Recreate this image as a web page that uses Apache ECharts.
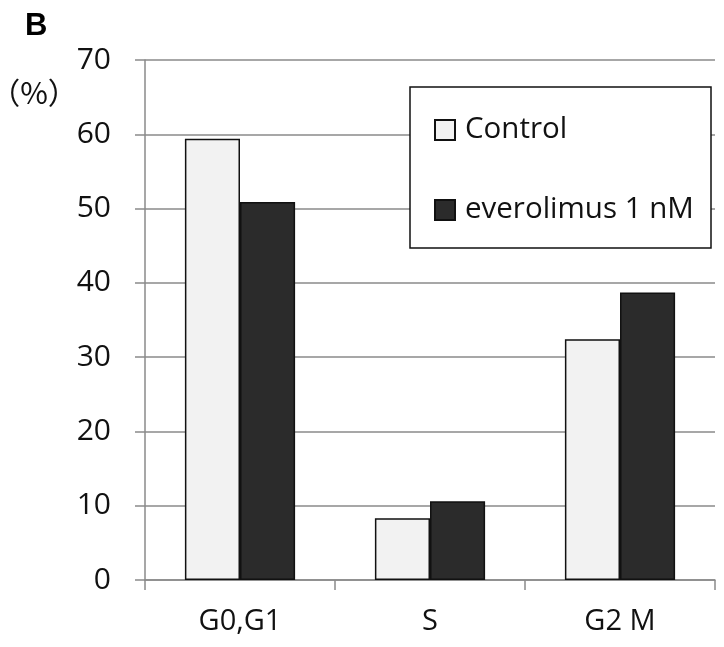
<!DOCTYPE html>
<html>
<head>
<meta charset="utf-8">
<script src="https://cdn.jsdelivr.net/npm/echarts@6/dist/echarts.min.js"></script>
<style>html,body{margin:0;padding:0;background:#fff;}#chart{width:724px;height:647px;}</style>
</head>
<body>
<div id="chart"></div>
<script>
const categories = ['G0,G1', 'S', 'G2 M'];
const controlValues = [59.4, 8.3, 32.4];
const everolimusValues = [50.9, 10.6, 38.7];
const seriesNames = ['Control', 'everolimus 1 nM'];
const yMin = 0, yMax = 70, yInterval = 10;

const FONT = '"Open Sans", "Noto Sans", sans-serif';
const chart = echarts.init(document.getElementById('chart'), null, {renderer: 'canvas'});
chart.setOption({
  animation: false,
  backgroundColor: '#ffffff',
  grid: {left: 145, right: 9, top: 60, bottom: 67, containLabel: false},
  title: {text: 'B', left: 20, top: 6, textStyle: {fontFamily: 'Liberation Sans, Arial, sans-serif', fontWeight: 'bold', fontSize: 31, color: '#000'}},
  graphic: [
    {type: 'text', x: 34, y: 93, style: {text: '（%）', fontFamily: 'Noto Sans CJK JP', fontSize: 30, fill: '#111', align: 'center', verticalAlign: 'middle'}},
    {type: 'rect', shape: {x: 410, y: 87, width: 301, height: 161}, style: {fill: '#fff', stroke: '#111', lineWidth: 1.5}, z: 5}
  ],
  legend: {
    orient: 'vertical', left: 429, top: 110, z: 10,
    itemWidth: 20, itemHeight: 20, itemGap: 50,
    icon: 'rect',
    textStyle: {fontFamily: FONT, fontSize: 29.5, color: '#111', lineHeight: 30, padding: [0,0,0,5]},
    data: seriesNames
  },
  xAxis: {
    type: 'category', data: categories,
    axisLine: {lineStyle: {color: '#8a8a8a', width: 1.5}},
    axisTick: {show: true, length: 10, lineStyle: {color: '#8a8a8a', width: 1.5}},
    axisLabel: {fontFamily: FONT, fontSize: 29, color: '#111', margin: 27}
  },
  yAxis: {
    type: 'value', min: yMin, max: yMax, interval: yInterval,
    axisLine: {show: true, lineStyle: {color: '#8a8a8a', width: 1.5}},
    axisTick: {show: true, length: 10, lineStyle: {color: '#8a8a8a', width: 1.5}},
    axisLabel: {fontFamily: FONT, fontSize: 30, color: '#111', margin: 34},
    splitLine: {show: true, lineStyle: {color: '#8a8a8a', width: 1.5}}
  },
  series: [
    {name: seriesNames[0], type: 'bar', data: controlValues, barGap: '0%', barCategoryGap: '42%',
     itemStyle: {color: '#f2f2f2', borderColor: '#111', borderWidth: 1.5}},
    {name: seriesNames[1], type: 'bar', data: everolimusValues, barGap: '0%', barCategoryGap: '42%',
     itemStyle: {color: '#2b2b2b', borderColor: '#111', borderWidth: 1.5}}
  ]
});
</script>
</body>
</html>
